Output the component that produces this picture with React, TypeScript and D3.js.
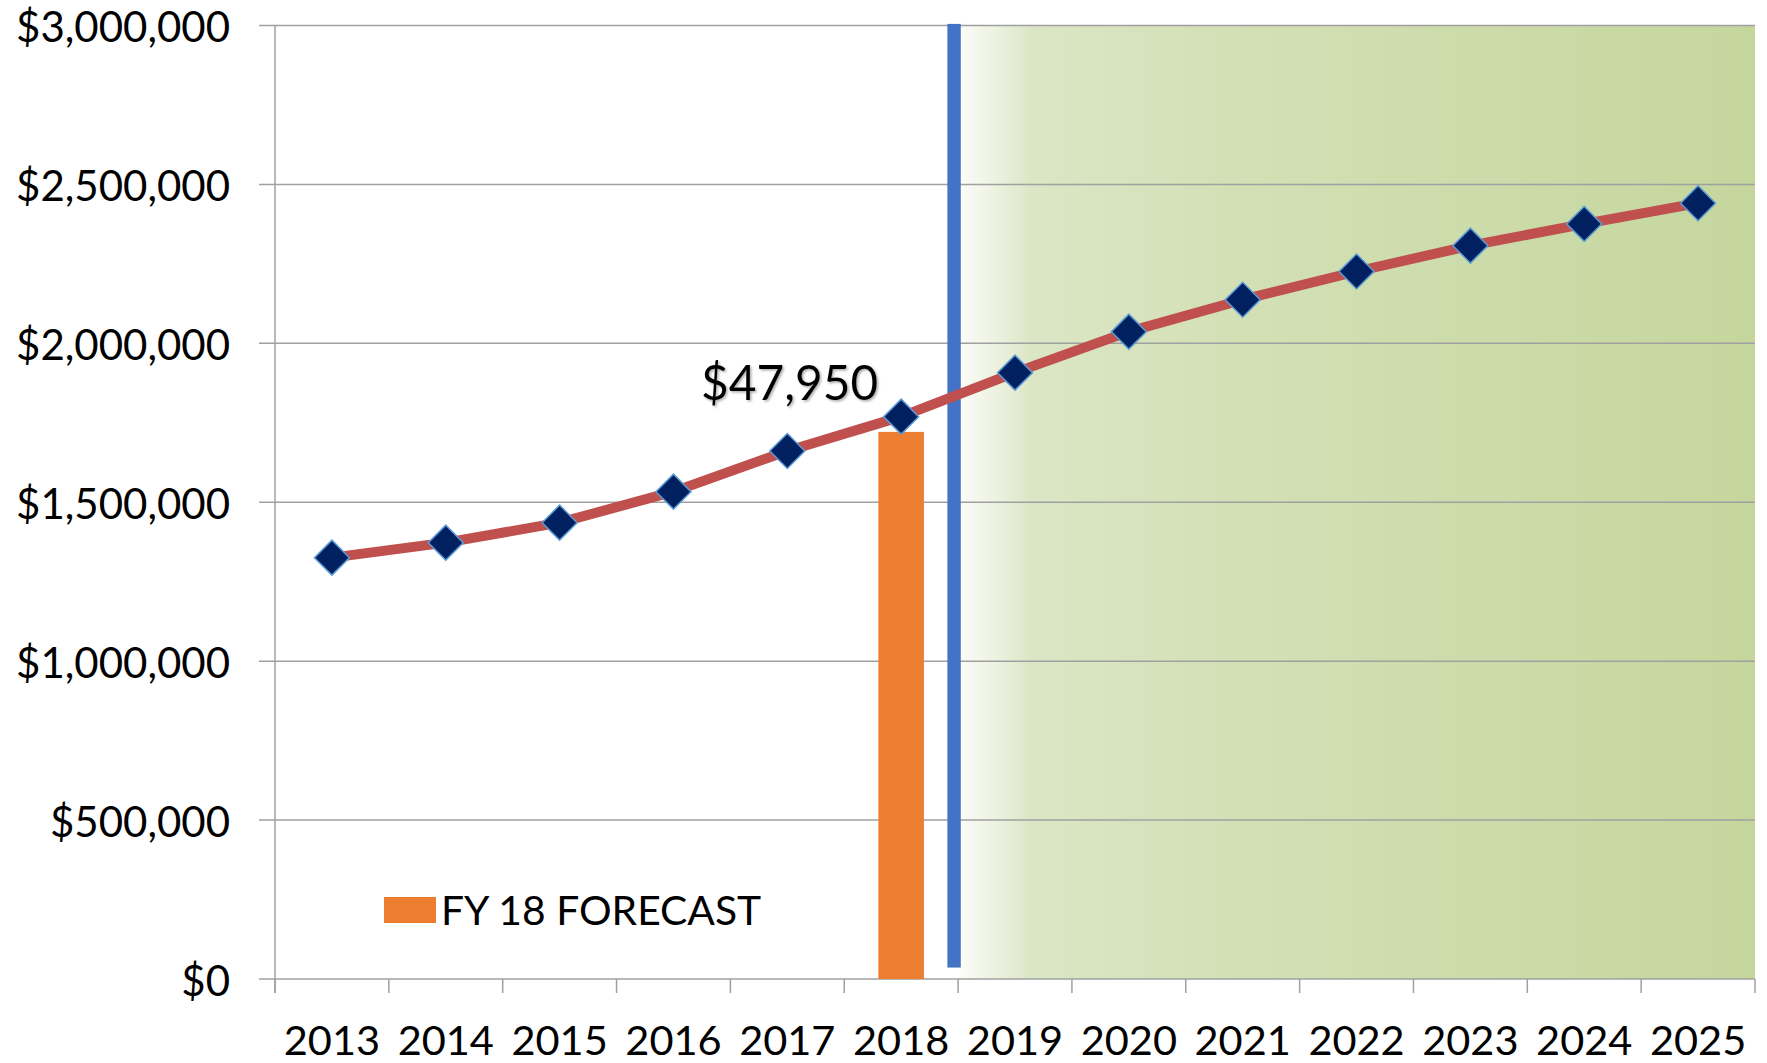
import React from "react";
import * as d3 from "d3";

const years = ["2013","2014","2015","2016","2017","2018","2019","2020","2021","2022","2023","2024","2025"];
const trendValues = [1325700,1372900,1435800,1533300,1661400,1769300,1907800,2036800,2137200,2226000,2307400,2375700,2440900];
const forecastYear = "2018";
const forecastValue = 1721350;
const forecastLabel = "$47,950";
const legendLabel = "FY 18 FORECAST";
const yTicks = [0,500000,1000000,1500000,2000000,2500000,3000000];
const dividerRange = [36000, 3005000];

const W = 1767, H = 1063;
const M = { left: 275, right: 12, top: 25.5, bottom: 84 };
const FONT = "Lato, 'Open Sans', sans-serif";

export default function App() {
  const x = d3.scaleBand<string>().domain(years).range([M.left, W - M.right]).padding(0);
  const y = d3.scaleLinear().domain([0, 3000000]).range([H - M.bottom, M.top]);
  const fmt = (v: number) => "$" + d3.format(",")(v);
  const bw = x.bandwidth();
  const cx = (yr: string) => (x(yr) as number) + bw / 2;
  const line = d3.line<number>().x((_, i) => cx(years[i])).y(d => y(d)).curve(d3.curveLinear);
  const diamond = d3.symbol().type(d3.symbolSquare).size(612)();
  const y0 = y(0);
  const divX = (x("2019") as number) - 4;
  const shadeStart = divX + 6.7;
  const barW = bw * 0.4;
  const boundaries = years.map(yr => x(yr) as number).concat([W - M.right]);

  return (
    <svg width={W} height={H} style={{ position: "absolute", left: 0, top: 0, background: "#fff" }} fontFamily={FONT}>
      <defs>
        <linearGradient id="shade" gradientUnits="userSpaceOnUse" x1={shadeStart} x2={W - M.right} y1={0} y2={0}>
          <stop offset="0" stopColor="#fbfcf8" />
          <stop offset="0.04" stopColor="#eef3e2" />
          <stop offset="0.09" stopColor="#dbe6c5" />
          <stop offset="0.35" stopColor="#d3e0b5" />
          <stop offset="1" stopColor="#c5d69d" />
        </linearGradient>
        <filter id="shadow" x="-10%" y="-20%" width="130%" height="150%">
          <feDropShadow dx="1.5" dy="1.5" stdDeviation="1.2" floodColor="#777" floodOpacity="0.6" />
        </filter>
      </defs>
      <rect x={shadeStart} y={y(3000000)} width={W - M.right - shadeStart} height={y0 - y(3000000)} fill="url(#shade)" />
      {yTicks.map(t => (
        <g key={t}>
          <line x1={M.left - 16} x2={W - M.right} y1={y(t)} y2={y(t)} stroke="#a0a0a0" strokeWidth={1.5} />
          <text x={230} y={y(t) + 16.5} textAnchor="end" fontSize={42} fill="#000">{fmt(t)}</text>
        </g>
      ))}
      <line x1={M.left} x2={M.left} y1={y(3000000)} y2={y0 + 14} stroke="#a0a0a0" strokeWidth={1.5} />
      {boundaries.map((b, i) => (
        <line key={i} x1={b} x2={b} y1={y0} y2={y0 + 14} stroke="#a0a0a0" strokeWidth={1.5} />
      ))}
      {years.map(yr => (
        <text key={yr} x={cx(yr)} y={1054.5} textAnchor="middle" fontSize={41.5} fill="#000">{yr}</text>
      ))}
      <rect x={cx(forecastYear) - barW / 2} y={y(forecastValue)} width={barW} height={y0 - y(forecastValue)} fill="#ed7d31" />
      <rect x={divX - 6.7} y={y(dividerRange[1])} width={13.4} height={y(dividerRange[0]) - y(dividerRange[1])} fill="#4472c4" />
      <path d={line(trendValues) || ""} fill="none" stroke="#c0504d" strokeWidth={10} strokeLinejoin="round" />
      {trendValues.map((v, i) => (
        <path key={i} d={diamond || ""} transform={`translate(${cx(years[i])},${y(v)}) rotate(45)`} fill="#002060" stroke="#5b9bd5" strokeWidth={1.5} />
      ))}
      <text x={701} y={400} fontSize={47.8} fill="#000" filter="url(#shadow)">{forecastLabel}</text>
      <rect x={384} y={897} width={52} height={26} fill="#ed7d31" />
      <text x={441} y={925} fontSize={40.8} fill="#000">{legendLabel}</text>
    </svg>
  );
}
